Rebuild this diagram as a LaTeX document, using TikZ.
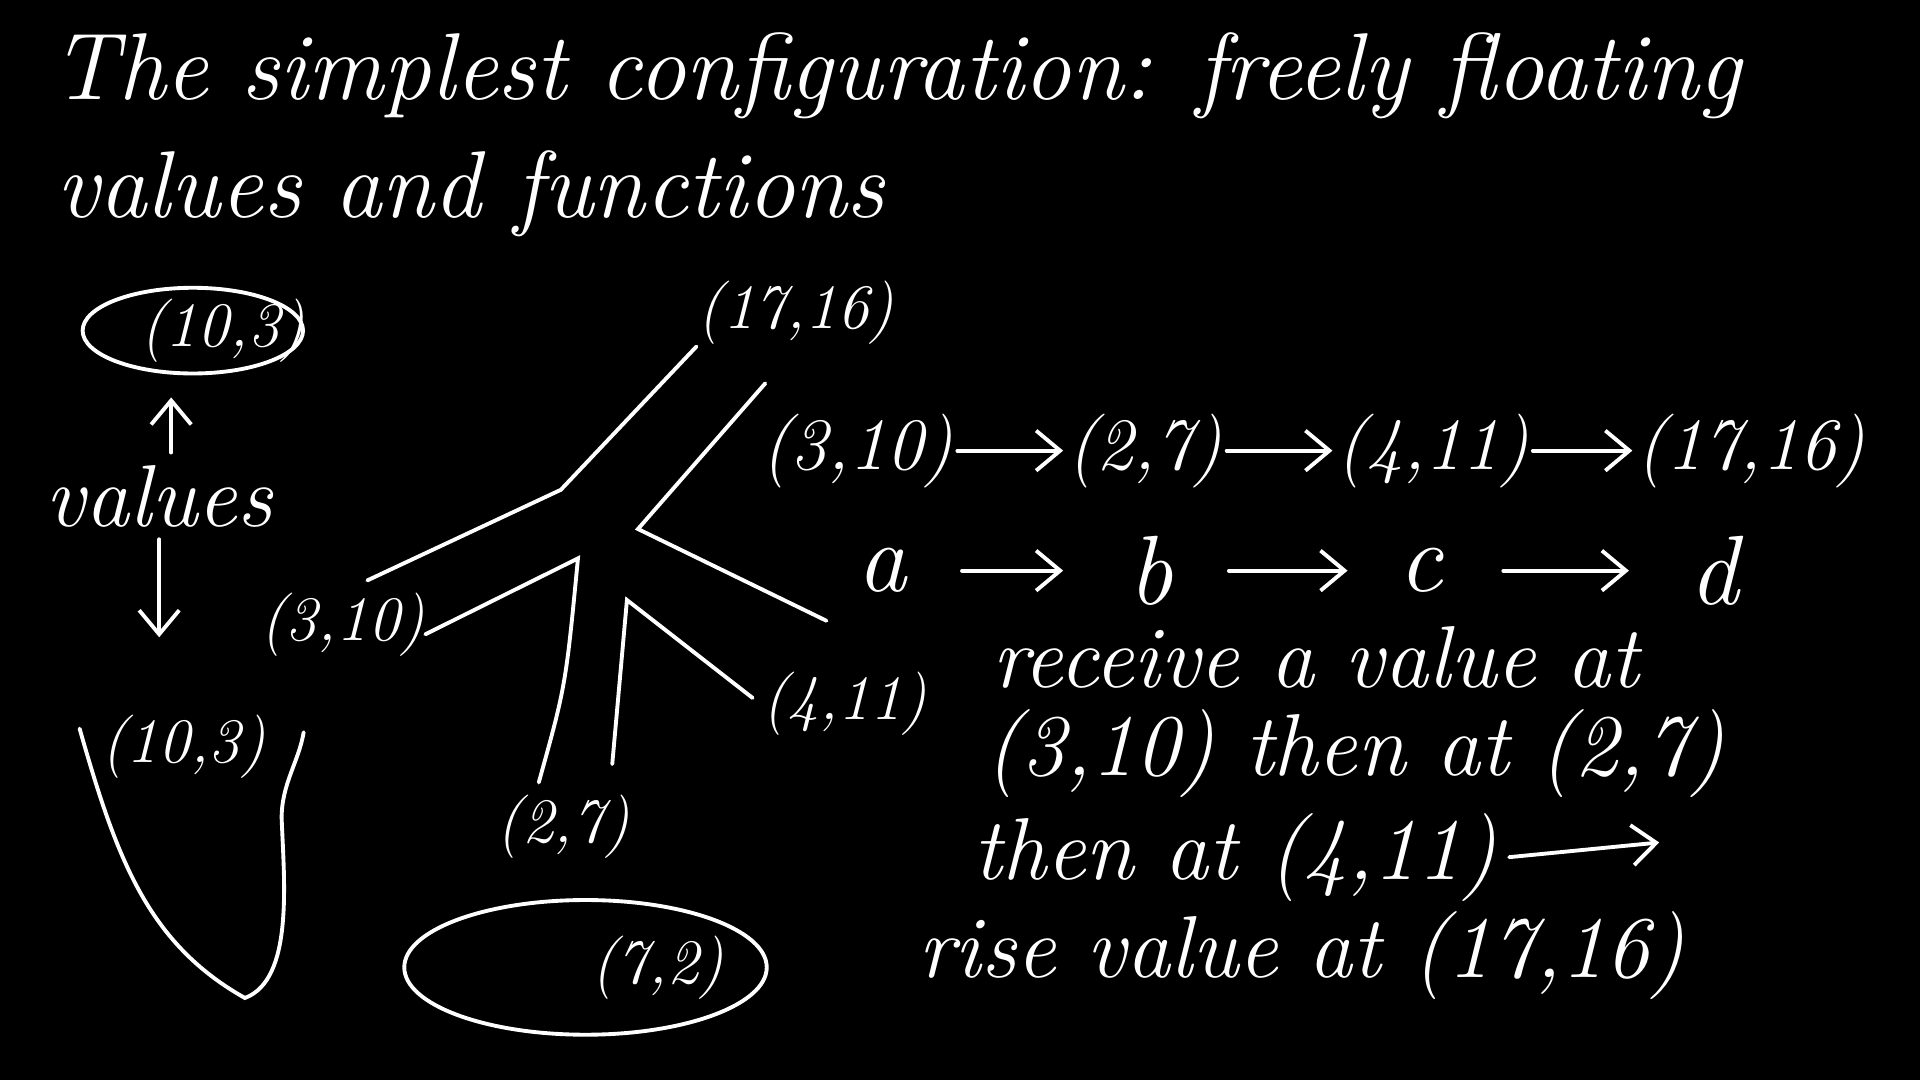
\documentclass[tikz,border=0pt]{standalone}
\usepackage{tikz}
\usetikzlibrary{arrows.meta,positioning,shapes.geometric,calc}

\begin{document}
\begin{tikzpicture}[x=0.012245cm, y=-0.012245cm, every node/.style={text=white,font=\itshape\fontsize{27}{32}\selectfont}, ln/.style={white,line width=1.1pt,line cap=round}, a/.style={ln,-{Straight Barb[length=2.4mm,width=4mm]}}, lbl/.style={font=\itshape\fontsize{18}{22}\selectfont}, chn/.style={font=\itshape\fontsize{21}{25}\selectfont,inner sep=1pt}, let/.style={font=\itshape\fontsize{28}{32}\selectfont,inner sep=0pt}]
\fill[black] (0,0) rectangle (1568,882);
\useasboundingbox (0,0) rectangle (1568,882);
% title
\node[anchor=west] (t1) at (32,62) {The simplest configuration: freely floating};
\node[anchor=west] (t2) at (36,158) {values and functions};
% left column
\node[lbl] (v1) at (182,270) {(10,3)};
\draw[ln] ([xshift=-0.3cm]v1.center) ellipse [x radius=90, y radius=35];
\node[font=\itshape\fontsize{25}{30}\selectfont] (vals) at (130,405) {values};
\node[lbl] (v2) at (150,610) {(10,3)};
\draw[a] ([xshift=0.12cm]vals.north) -- ++(0,-45);
\draw[a] (vals.south) -- ++(0,80);
\draw[ln] (65,595) .. controls (95,700) and (120,770) .. (200,815) .. controls (240,800) and (232,720) .. (230,668) .. controls (230,640) and (244,622) .. (248,598);
% tree
\node[lbl] (n3) at (280,510) {(3,10)};
\node[lbl] (n17) at (650,255) {(17,16)};
\node[lbl] (n2) at (460,675) {(2,7)};
\node[lbl] (n4) at (690,575) {(4,11)};
\node[lbl] (n7) at (537,790) {(7,2)};
\draw[ln] ([xshift=-0.72cm]n7.center) ellipse [x radius=148, y radius=55];
\coordinate (j1) at (458,400);
\coordinate (j2) at (472,456);
\coordinate (j3) at (521,432);
\coordinate (j4) at (512,490);
\draw[ln] ([shift={(20,0)}]n3.north) -- (j1) -- ([shift={(9,-8)}]n17.south west);
\draw[ln] ([shift={(-10,8)}]n3.east) -- (j2) .. controls (462,560) .. ([shift={(-20,0)}]n2.north);
\draw[ln] ([shift={(-25,22)}]n17.south) -- (j3) -- ([shift={(-15,-32)}]n4.north);
\draw[ln] ([shift={(40,-15)}]n2.north) -- (j4) -- ([shift={(2,-5)}]n4.west);
% chain
\node[chn] (c1) at (700,368) {(3,10)};
\node[chn] (c2) at (935,368) {(2,7)};
\node[chn] (c3) at (1170,368) {(4,11)};
\node[chn] (c4) at (1430,368) {(17,16)};
\draw[a] (c1) -- (c2);\draw[a] (c2) -- (c3);\draw[a] (c3) -- (c4);
\node[let] (la) at (720,466) {a};
\node[let] (lb) at (940,466) {b};
\node[let] (lc) at (1160,466) {c};
\node[let] (ld) at (1400,466) {d};
\draw[a,shorten <=0.55cm,shorten >=0.65cm] (la) -- (lb);\draw[a,shorten <=0.55cm,shorten >=0.5cm] (lb) -- (lc);\draw[a,shorten <=0.6cm,shorten >=0.6cm] (lc) -- (ld);
% explanation
\node[anchor=west,font=\itshape\fontsize{25}{30}\selectfont] (e1) at (800,537) {receive a value at};
\node[anchor=west,font=\itshape\fontsize{25}{30}\selectfont] (e2) at (795,615) {(3,10) then at (2,7)};
\node[anchor=west,font=\itshape\fontsize{25}{30}\selectfont] (e3) at (785,700) {then at (4,11)};
\coordinate (e3end) at (1355,688);
\draw[a] (e3.east) -- (e3end);
\node[anchor=west,font=\itshape\fontsize{25}{30}\selectfont] (e4) at (740,780) {rise value at (17,16)};
\end{tikzpicture}
\end{document}
